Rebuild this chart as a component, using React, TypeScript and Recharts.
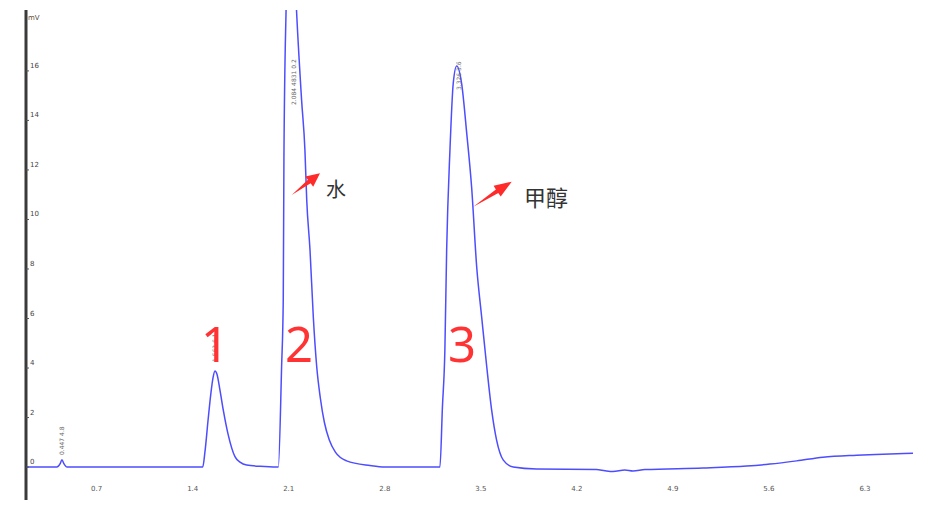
import React from "react";
import { Line, LineChart, XAxis, YAxis } from "recharts";

// retention time (min) and detector signal (mV)
const times = [
  0.185, 0.41, 0.435, 0.447, 0.46, 0.485,
  1.473, 1.489, 1.513, 1.533, 1.548, 1.562, 1.577, 1.599, 1.623, 1.659, 1.708, 1.745, 1.793, 1.89, 2.012,
  2.024, 2.048, 2.06, 2.065, 2.08, 2.1, 2.12, 2.14, 2.158, 2.194, 2.218, 2.231, 2.255, 2.279, 2.304, 2.33,
  2.36, 2.395, 2.44, 2.522, 2.692, 2.8,
  3.202, 3.22, 3.238, 3.251, 3.275, 3.299, 3.324, 3.36, 3.397, 3.433, 3.47, 3.506, 3.543, 3.579, 3.615,
  3.664, 3.736,
  3.907, 4.344, 4.405, 4.463, 4.55, 4.609, 4.696, 5.119, 5.438, 5.607, 5.802, 5.994, 6.239, 6.431, 6.65,
];
const signal = [
  0, 0, 0.15, 0.3, 0.15, 0,
  0, 0.6, 1.95, 3.0, 3.6, 3.88, 3.75, 3.1, 2.3, 1.3, 0.42, 0.2, 0.08, 0.03, 0,
  0, 4.05, 6.75, 12.5, 18.3, 21, 21.5, 20.5, 18.3, 14.8, 12.8, 10.8, 8.77, 6.07, 4.05, 2.8,
  1.8, 1.1, 0.6, 0.25, 0.06, 0,
  0, 2.4, 4.73, 8.77, 12.8, 15.5, 16.2, 15.5, 13.5, 11.3, 8.08, 6.07, 4.06, 2.3, 1.09,
  0.28, 0,
  -0.08, -0.1, -0.15, -0.18, -0.12, -0.16, -0.1, -0.04, 0.04, 0.12, 0.25, 0.4, 0.48, 0.52, 0.56,
];
const xTicks = [0.7, 1.4, 2.1, 2.8, 3.5, 4.2, 4.9, 5.6, 6.3];
const yTicks = [0, 2, 4, 6, 8, 10, 12, 14, 16];

const data = times.map((t, i) => ({ t, v: signal[i] }));

const tickFont = "'DejaVu Sans', sans-serif";

const YTick = (props: any) => {
  const { y, payload } = props;
  return (
    <g>
      <line x1={26} x2={29} y1={y} y2={y} stroke="#555" strokeWidth={1} />
      <text x={30} y={y - 3} fontSize={7} fill="#444" fontFamily={tickFont}>
        {payload.value}
      </text>
    </g>
  );
};

const XTick = (props: any) => {
  const { x, payload } = props;
  return (
    <text x={x} y={491} fontSize={7} fill="#555" textAnchor="middle" fontFamily={tickFont}>
      {Number(payload.value).toFixed(1)}
    </text>
  );
};

// tapered arrow polygon from tail to tip
function arrow(x1: number, y1: number, x2: number, y2: number) {
  const dx = x2 - x1;
  const dy = y2 - y1;
  const len = Math.hypot(dx, dy);
  const ux = dx / len;
  const uy = dy / len;
  const nx = -uy;
  const ny = ux;
  const bx = x2 - ux * len * 0.38;
  const by = y2 - uy * len * 0.38;
  const p = (x: number, y: number) => `${x.toFixed(1)},${y.toFixed(1)}`;
  return [
    p(x1, y1),
    p(bx + nx * 2.2, by + ny * 2.2),
    p(bx + nx * 6.5, by + ny * 6.5),
    p(x2, y2),
    p(bx - nx * 6.5, by - ny * 6.5),
    p(bx - nx * 2.2, by - ny * 2.2),
  ].join(" ");
}

export default function App() {
  return (
    <div style={{ position: "absolute", left: 0, top: 0, width: 940, height: 525, background: "#fff" }}>
      <LineChart width={940} height={525} data={data} margin={{ top: 10, right: 27, bottom: 5, left: 0 }}>
        <XAxis
          dataKey="t"
          type="number"
          domain={[0.185, 6.65]}
          ticks={xTicks}
          allowDataOverflow
          axisLine={false}
          tickLine={false}
          height={20}
          tick={<XTick />}
        />
        <YAxis
          type="number"
          domain={[-1.33, 18.46]}
          ticks={yTicks}
          allowDataOverflow
          width={26}
          axisLine={{ stroke: "#3a3a3a", strokeWidth: 3 }}
          tickLine={false}
          tick={<YTick />}
        />
        <Line
          dataKey="v"
          type="monotone"
          stroke="#4d4dff"
          strokeWidth={1.5}
          dot={false}
          isAnimationActive={false}
        />
      </LineChart>
      <svg
        width={940}
        height={525}
        style={{ position: "absolute", left: 0, top: 0, pointerEvents: "none" }}
      >
        <text x={28} y={20} fontSize={7} fill="#5a4a3a" fontFamily={tickFont}>mV</text>

        <g fontSize={6} fill="#666" fontFamily={tickFont}>
          <text transform="translate(64,455) rotate(-90)">0.447 4.8</text>
          <text transform="translate(296,105) rotate(-90)">2.084 4831 0.2</text>
          <text transform="translate(461,90) rotate(-90)">3.326 3.6</text>
          <text transform="translate(217,362) rotate(-90)">1.562 6.1</text>
        </g>

        <g fontSize={49} fill="#ff3333" fontFamily="'Noto Sans', sans-serif" textAnchor="middle">
          <text x={215} y={362}>1</text>
          <text x={299} y={362}>2</text>
          <text x={462} y={362}>3</text>
        </g>

        <polygon points={arrow(291.7, 195, 320, 173.3)} fill="#ff2a2a" />
        <polygon points={arrow(473.3, 206.7, 511.7, 181.7)} fill="#ff2a2a" />

        <text x={326} y={197} fontSize={20} fill="#333" fontFamily="'Noto Sans CJK SC', sans-serif">水</text>
        <text x={524} y={206} fontSize={22} fill="#333" fontFamily="'Noto Sans CJK SC', sans-serif">甲醇</text>
      </svg>
    </div>
  );
}
